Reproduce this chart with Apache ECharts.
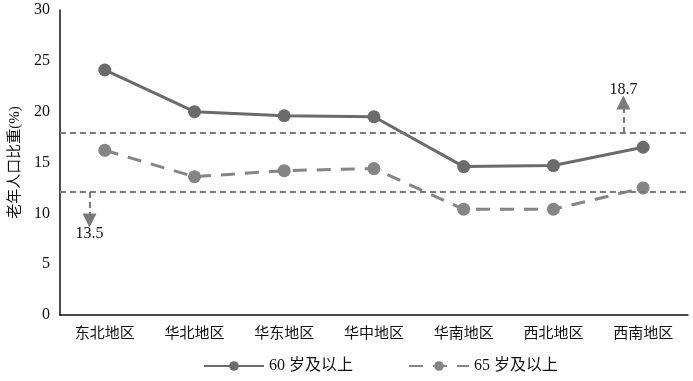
<!DOCTYPE html>
<html><head><meta charset="utf-8">
<script src="https://cdn.jsdelivr.net/npm/echarts@6/dist/echarts.min.js"></script>
<style>html,body{margin:0;padding:0;background:#fff}#c{width:693px;height:381px}</style>
</head><body><div id="c"></div>
<script>
const categories = ['东北地区','华北地区','华东地区','华中地区','华南地区','西北地区','西南地区'];
const age60 = [24.1, 20.0, 19.6, 19.5, 14.6, 14.7, 16.5];
const age65 = [16.2, 13.6, 14.2, 14.4, 10.4, 10.4, 12.5];
const seriesNames = ['60 岁及以上', '65 岁及以上'];
const refLines = [17.9, 12.1];
// annotation arrows: [x position (category index), from, to, label]
const arrowUp = [5.78, 17.9, 20.9, '18.7'];
const arrowDown = [-0.17, 12.1, 9.3, '13.5'];

const font = "'Liberation Serif','Noto Sans CJK SC',serif";
const chart = echarts.init(document.getElementById('c'));
function arrow(a){
  return [{coord:[a[0],a[1]], symbol:'none'},{coord:[a[0],a[2]], symbol:'triangle', symbolSize:[14,14],
    label:{show:true, position:'end', formatter:a[3], color:'#111', fontSize:16, fontFamily:font, distance:5}}];
}
chart.setOption({
  animation:false,
  textStyle:{fontFamily:font},
  grid:{left:58, right:5, top:10, bottom:66},
  legend:{bottom:2, left:198, itemWidth:60, itemHeight:12, itemGap:55,
    textStyle:{fontSize:16, color:'#111', fontFamily:font},
    data:seriesNames},
  xAxis:[{type:'category', data:categories, boundaryGap:true,
    axisLine:{lineStyle:{color:'#111', width:1.5}}, axisTick:{show:false},
    axisLabel:{fontSize:15, color:'#111', fontFamily:font, margin:12}},
    {type:'value', min:-0.5, max:6.5, show:false}],
  yAxis:{type:'value', min:0, max:30, interval:5, name:'老年人口比重(%)', nameLocation:'middle', nameGap:32,
    nameTextStyle:{fontSize:15, color:'#111', fontFamily:font},
    axisLine:{show:true, onZero:false, lineStyle:{color:'#111', width:1.5}}, axisTick:{show:false}, splitLine:{show:false},
    axisLabel:{fontSize:16, color:'#111', fontFamily:font, margin:10}},
  series:[
    {name:seriesNames[0], type:'line', data:age60, symbol:'circle', symbolSize:13,
      lineStyle:{color:'#6b6b6b', width:3}, itemStyle:{color:'#6b6b6b'}},
    {name:seriesNames[1], type:'line', data:age65, symbol:'circle', symbolSize:13,
      lineStyle:{color:'#858585', width:3, type:[14,10]}, itemStyle:{color:'#858585'},
      markLine:{silent:true, symbol:'none', label:{show:false},
        lineStyle:{color:'#7a7a7a', width:2, type:[6,4]},
        data:refLines.map(v=>({yAxis:v}))}},
    {type:'line', xAxisIndex:1, data:[], silent:true,
      markLine:{silent:true, lineStyle:{color:'#7a7a7a', width:2, type:[6,4]},
        data:[arrow(arrowUp), arrow(arrowDown)]}}
  ]
});
</script></body></html>
